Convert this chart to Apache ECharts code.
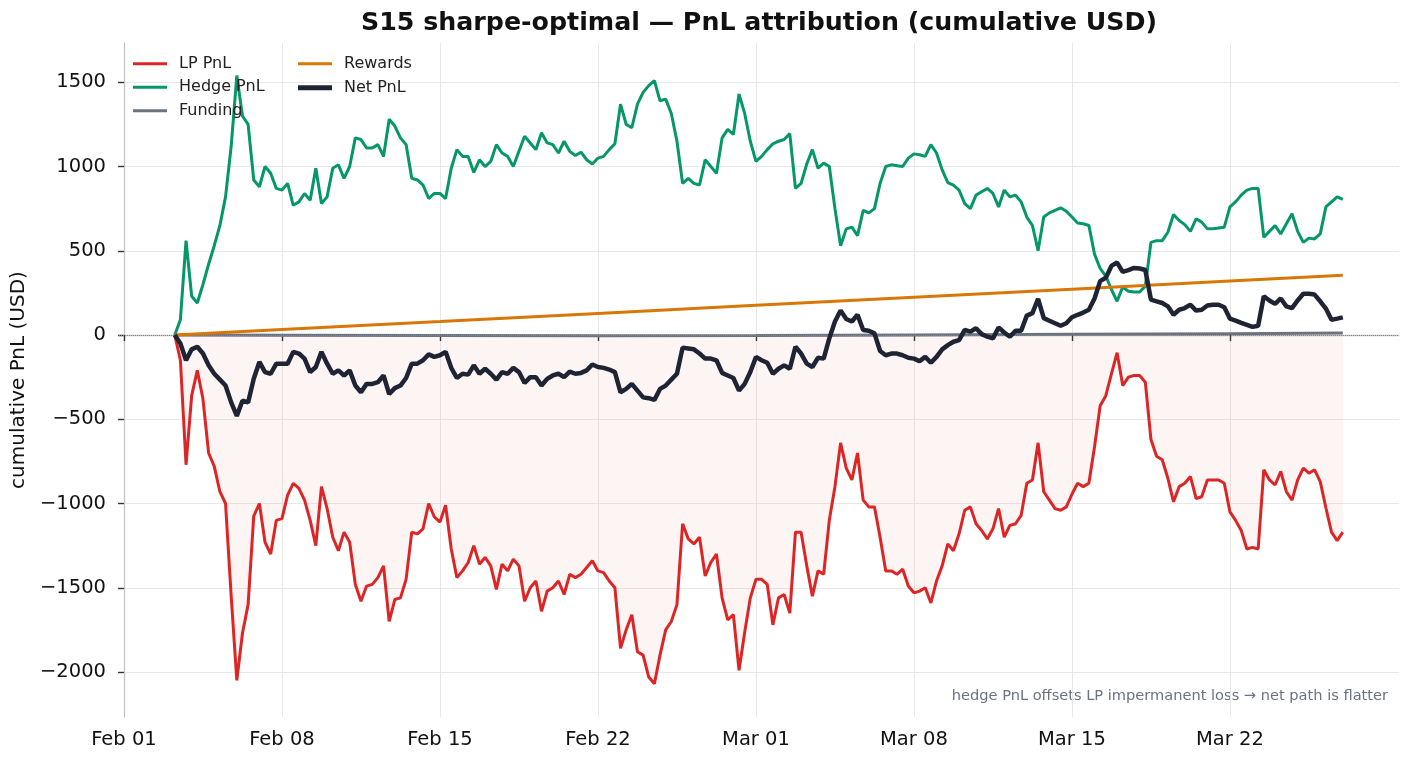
<!DOCTYPE html>
<html>
<head>
<meta charset="utf-8">
<title>S15 sharpe-optimal PnL attribution</title>
<script src="https://cdn.jsdelivr.net/npm/echarts@6/dist/echarts.min.js"></script>
<style>
html, body { margin: 0; padding: 0; background: #fff; }
#chart { width: 1413px; height: 763px; }
</style>
</head>
<body>
<div id="chart"></div>
<script>
// x values are days since Feb 01; the three pnl series are sampled every 6h from Feb 03 06:00
const START_DAY = 2.25;
const STEP_DAY = 0.25;
const tickDays = [0, 7, 14, 21, 28, 35, 42, 49];
const yTicks = [-2000, -1500, -1000, -500, 0, 500, 1000, 1500];

const lpPnl = [
    0, -150, -770, -360, -210, -380, -700, -780, -930, -1000,
    -1550, -2050, -1770, -1600, -1075, -1000, -1230, -1300, -1100, -1090,
    -950, -880, -910, -980, -1100, -1250, -900, -1030, -1200, -1280,
    -1170, -1230, -1480, -1580, -1490,
    -1480, -1440, -1370, -1700, -1570, -1560, -1450, -1170, -1180, -1150,
    -1000, -1080, -1110, -1010, -1270, -1440, -1400, -1350, -1250, -1360,
    -1320, -1370, -1510, -1360, -1400, -1330, -1370, -1580, -1500, -1460,
    -1640, -1520, -1500, -1460, -1540, -1420,
    -1440, -1420, -1380, -1340, -1400, -1410, -1460, -1500, -1860, -1750,
    -1660, -1880, -1900, -2030, -2070, -1900, -1750, -1700, -1600, -1120,
    -1210, -1240, -1200, -1430, -1350, -1300, -1560, -1690, -1660, -1990,
    -1765, -1560, -1450, -1450, -1480,
    -1720, -1560, -1540, -1650, -1170, -1170, -1370, -1550, -1400, -1420,
    -1100, -900, -640, -790, -860, -700, -980, -1020, -1020, -1200,
    -1400, -1400, -1420, -1390, -1490, -1530, -1520, -1500, -1590, -1460,
    -1370, -1240, -1280, -1180, -1040,
    -1020, -1120, -1160, -1210, -1150, -1030, -1200, -1130, -1120, -1070,
    -880, -860, -640, -930, -980, -1030, -1040, -1020, -945, -880,
    -900, -880, -665, -420, -360, -230, -105, -300, -250, -240,
    -240, -280, -620, -720, -740, -850,
    -990, -900, -880, -840, -970, -960, -860, -860, -860, -880,
    -1050, -1100, -1160, -1270, -1260, -1270, -800, -860, -890, -810,
    -930, -980, -860, -790, -820, -800, -870, -1025, -1170, -1220,
    -1170
];

const hedgePnl = [
    0, 90, 560, 230, 190, 300, 420, 530, 650, 820,
    1120, 1540, 1300, 1250, 920, 880, 1000, 960, 870, 860,
    900, 770, 790, 840, 800, 990, 780, 820, 990, 1010,
    930, 1000, 1170, 1160, 1110,
    1110, 1130, 1060, 1280, 1240, 1170, 1130, 930, 920, 890,
    810, 840, 840, 810, 990, 1100, 1060, 1060, 965, 1040,
    1000, 1030, 1130, 1080, 1060, 1000, 1090, 1180, 1140, 1100,
    1200, 1140, 1130, 1080, 1150, 1090,
    1065, 1085, 1040, 1015, 1050, 1060, 1100, 1135, 1370, 1250,
    1230, 1370, 1440, 1480, 1510, 1390, 1400, 1315, 1150, 900,
    930, 900, 890, 1040, 1000, 960, 1170, 1220, 1190, 1430,
    1315, 1150, 1030, 1060, 1100,
    1135, 1150, 1160, 1195, 870, 900, 1015, 1100, 990, 1020,
    1000, 750, 530, 630, 640, 590, 740, 725, 750, 900,
    1000, 1010, 1005, 1000, 1050, 1075, 1070, 1060, 1130, 1080,
    980, 905, 890, 860, 780,
    750, 830, 850, 870, 840, 760, 860, 820, 830, 790,
    700, 650, 500, 700, 725, 740, 755, 735, 700, 665,
    660, 650, 480, 395, 350, 270, 200, 285, 260, 255,
    255, 290, 550, 560, 560, 610,
    715, 680, 655, 615, 690, 670, 630, 630, 635, 640,
    760, 790, 830, 860, 870, 870, 580, 615, 650, 600,
    660, 720, 615, 550, 575, 570, 600, 760, 790, 820,
    805
];

const netPnl = [
    0, -50, -150, -85, -70, -110, -180, -230, -265, -300,
    -400, -480, -390, -400, -260, -160, -220, -230, -170, -170,
    -170, -100, -110, -140, -220, -190, -100, -170, -230, -210,
    -240, -210, -300, -340, -290,
    -290, -280, -240, -350, -315, -300, -255, -170, -170, -150,
    -115, -130, -120, -100, -195, -255, -230, -235, -180, -230,
    -200, -230, -265, -220, -230, -195, -220, -285, -250, -250,
    -300, -260, -240, -230, -250, -217,
    -230, -225, -210, -175, -190, -195, -205, -220, -340, -320,
    -290, -330, -370, -375, -385, -320, -300, -265, -230, -75,
    -80, -85, -110, -140, -140, -150, -225, -240, -255, -330,
    -290, -220, -130, -150, -165,
    -230, -200, -180, -200, -70, -110, -170, -190, -135, -140,
    -20, 80, 145, 95, 80, 120, 30, 25, 10, -95,
    -120, -110, -110, -120, -135, -140, -155, -130, -165, -130,
    -85, -60, -40, -30, 30,
    20, 40, 5, -10, -20, 45, 15, -10, 25, 25,
    115, 130, 215, 100, 85, 70, 55, 70, 105, 120,
    133, 150, 217, 320, 340, 410, 430, 375, 385, 398,
    395, 386, 210, 200, 190, 170,
    120, 150, 160, 180, 145, 150, 175, 180, 180, 165,
    97, 85, 72, 60, 48, 55, 230, 205, 185, 217,
    170, 160, 205, 245, 245, 240, 200, 157, 90, 97,
    105
];

// rewards and funding are smooth, read at a few dates
const slowDays = [2.25, 7, 14, 21, 28, 35, 42, 49, 54];
const rewards = [0, 33, 80, 128, 176, 224, 272, 320, 355];
const funding = [0, -1, -3, -5, -3, 0, 4, 8, 12];

const FONT = 'DejaVu Sans';
const MONTHS = ['Jan', 'Feb', 'Mar', 'Apr'];

function sampled(vals) {
    return vals.map((v, i) => [START_DAY + i * STEP_DAY, v]);
}
function paired(days, vals) {
    return vals.map((v, i) => [days[i], v]);
}
function dayLabel(v) {
    const d = new Date(Date.UTC(2026, 1, 1) + Math.round(v) * 86400000);
    return MONTHS[d.getUTCMonth()] + ' ' + String(d.getUTCDate()).padStart(2, '0');
}
function numLabel(v) {
    return v < 0 ? '\u2212' + Math.abs(v) : String(v);
}

const chart = echarts.init(document.getElementById('chart'));

const legendBase = {
    orient: 'vertical',
    icon: 'rect',
    itemWidth: 34,
    itemHeight: 3,
    itemGap: 6,
    padding: 0,
    textStyle: { fontFamily: FONT, fontSize: 16, color: '#222', lineHeight: 17.5, padding: [0, 0, 0, 7] }
};

const option = {
    animation: false,
    backgroundColor: '#fff',
    title: {
        text: 'S15 sharpe-optimal \u2014 PnL attribution (cumulative USD)',
        left: 759,
        top: 11,
        padding: 0,
        textAlign: 'center',
        textStyle: { fontFamily: FONT, fontWeight: 'bold', fontSize: 25.3, color: '#111' }
    },
    legend: [
        Object.assign({}, legendBase, { left: 133, top: 55, data: ['LP PnL', 'Hedge PnL', 'Funding'] }),
        Object.assign({}, legendBase, { left: 298, top: 55, data: ['Rewards'] }),
        Object.assign({}, legendBase, { left: 298, top: 79, itemHeight: 5, data: ['Net PnL'] })
    ],
    grid: { left: 119, right: 14, top: 43, bottom: 46 },
    xAxis: {
        type: 'value',
        min: -0.22,
        max: 56.49,
        axisLine: { show: true, lineStyle: { color: '#c4c4c4', width: 1.3 } },
        axisTick: { show: true, customValues: tickDays, length: 6, lineStyle: { color: '#333', width: 1.4 } },
        axisLabel: {
            customValues: tickDays,
            formatter: dayLabel,
            margin: 13,
            fontFamily: FONT, fontSize: 19.5, color: '#111'
        },
        splitLine: { show: true, lineStyle: { color: '#e8e8e8', width: 1 } }
    },
    yAxis: {
        type: 'value',
        min: -2267,
        max: 1733,
        name: 'cumulative PnL (USD)',
        nameLocation: 'middle',
        nameGap: 88,
        nameTextStyle: { fontFamily: FONT, fontSize: 20, color: '#111' },
        axisLine: { show: true, lineStyle: { color: '#c4c4c4', width: 1.3 } },
        axisTick: { show: true, customValues: yTicks, length: 6, lineStyle: { color: '#333', width: 1.4 } },
        axisLabel: {
            customValues: yTicks,
            formatter: numLabel,
            margin: 13,
            fontFamily: FONT, fontSize: 19.5, color: '#111'
        },
        splitLine: { show: true, lineStyle: { color: '#e8e8e8', width: 1 } }
    },
    series: [
        {
            name: 'LP PnL',
            type: 'line',
            data: sampled(lpPnl),
            showSymbol: false,
            color: '#dc2626',
            lineStyle: { width: 3, color: '#dc2626' },
            areaStyle: { color: 'rgba(220,38,38,0.07)', origin: 0 },
            z: 2
        },
        {
            name: 'Hedge PnL',
            type: 'line',
            data: sampled(hedgePnl),
            showSymbol: false,
            color: '#059669',
            lineStyle: { width: 3, color: '#059669' },
            z: 3
        },
        {
            name: 'Funding',
            type: 'line',
            data: paired(slowDays, funding),
            showSymbol: false,
            color: '#6b7280',
            lineStyle: { width: 3, color: '#6b7280' },
            markLine: {
                silent: true,
                symbol: 'none',
                label: { show: false },
                lineStyle: { type: 'dotted', color: '#888', width: 1 },
                data: [{ yAxis: 0 }]
            },
            z: 4
        },
        {
            name: 'Rewards',
            type: 'line',
            data: paired(slowDays, rewards),
            showSymbol: false,
            color: '#d97706',
            lineStyle: { width: 3, color: '#d97706' },
            z: 5
        },
        {
            name: 'Net PnL',
            type: 'line',
            data: sampled(netPnl),
            showSymbol: false,
            color: '#1e2433',
            lineStyle: { width: 4.5, color: '#1e2433' },
            z: 6
        }
    ],
    graphic: [
        {
            type: 'text',
            right: 25,
            top: 689,
            style: {
                text: 'hedge PnL offsets LP impermanent loss \u2192 net path is flatter',
                fontFamily: FONT, fontSize: 14.6, fill: '#6b7280'
            }
        }
    ]
};

chart.setOption(option);

window.addEventListener('resize', function () {
    chart.resize();
});
</script>
</body>
</html>
